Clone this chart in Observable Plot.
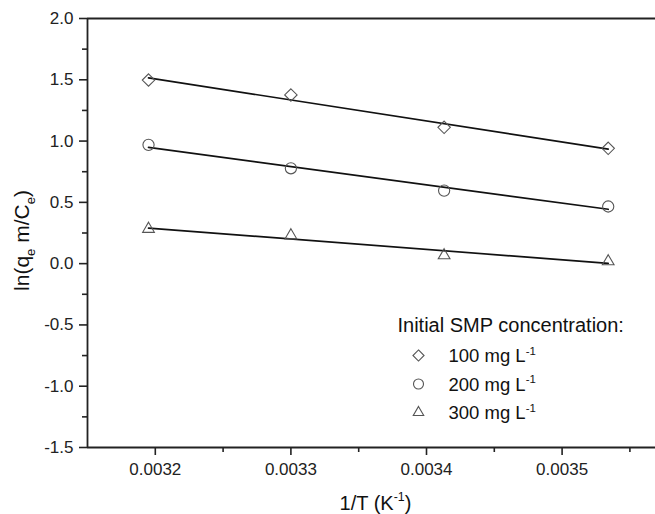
<!DOCTYPE html>
<html><head><meta charset="utf-8">
<script src="https://cdn.jsdelivr.net/npm/d3@7"></script>
<script src="https://cdn.jsdelivr.net/npm/@observablehq/plot@0.6"></script>
<style>
body{margin:0;background:#fff;}
#chart{width:655px;height:514px;overflow:hidden;}
</style></head><body><div id="chart"></div>
<script>
// ---- data ----
const invT = [0.003195, 0.003300, 0.003413, 0.003534];
const seriesNames = ["100 mg L^{-1}", "200 mg L^{-1}", "300 mg L^{-1}"];
const lnK100 = [1.498, 1.376, 1.112, 0.941];
const lnK200 = [0.969, 0.778, 0.596, 0.466];
const lnK300 = [0.283, 0.230, 0.067, 0.018];
const seriesSymbols = ["diamond2", "circle", "triangle2"];
const xMajorTicks = [0.0032, 0.0033, 0.0034, 0.0035];
const xMinorTicks = [0.00325, 0.00335, 0.00345, 0.00355];
const yMajorTicks = [-1.5, -1.0, -0.5, 0.0, 0.5, 1.0, 1.5, 2.0];
const yMinorTicks = [-1.25, -0.75, -0.25, 0.25, 0.75, 1.25, 1.75];
const legendTitle = "Initial SMP concentration:";
const xLabel = "1/T (K^{-1})";
const yLabel = "ln(q_{e} m/C_{e})";

const seriesValues = [lnK100, lnK200, lnK300];
const rows = seriesNames.flatMap((s, i) =>
  invT.map((x, j) => ({series: s, x, y: seriesValues[i][j]})));

const axisColor = "#222";
const markerColor = "#555";
const fontFam = "'Liberation Sans', Arial, Helvetica, sans-serif";

const legendMarks = seriesNames.flatMap((s, i) => [
  Plot.dot([s], {frameAnchor: "top-left", dx: 331, dy: 337 + i * 28.5, symbol: () => seriesSymbols[i],
    r: 5, stroke: markerColor, strokeWidth: 1.1, fill: "none"}),
  Plot.text([s], {frameAnchor: "top-left", dx: 361, dy: 338 + i * 28.5, text: d => d,
    textAnchor: "start", lineAnchor: "middle", fontSize: 18.5, fill: "#111"})
]);

const chart = Plot.plot({
  width: 655,
  height: 514,
  marginLeft: 87,
  marginRight: 0,
  marginTop: 18,
  marginBottom: 67,
  style: {fontFamily: fontFam, background: "#fff", color: axisColor, fontSize: "17px"},
  x: {domain: [0.00315, 0.0036], range: [87, 697.2]},
  y: {domain: [-1.5, 2.0]},
  symbol: {domain: seriesNames, range: seriesSymbols},
  marks: [
    Plot.ruleY([2.0], {stroke: axisColor, strokeWidth: 1.8}),
    Plot.ruleY([-1.5], {stroke: axisColor, strokeWidth: 1.8}),
    Plot.ruleX([0.00315], {stroke: axisColor, strokeWidth: 1.8}),
    Plot.axisX(xMajorTicks, {tickSize: 8, tickPadding: 7, tickFormat: d => d.toFixed(4), label: null,
      fontSize: 17, strokeWidth: 1.6, stroke: axisColor, fill: "#222"}),
    Plot.axisX(xMinorTicks, {tickSize: 5, tickFormat: () => "", label: null, strokeWidth: 1.6, stroke: axisColor}),
    Plot.axisY(yMajorTicks, {tickSize: 8, tickPadding: 6, tickFormat: d => d.toFixed(1), label: null,
      fontSize: 17, strokeWidth: 1.6, stroke: axisColor, fill: "#222"}),
    Plot.axisY(yMinorTicks, {tickSize: 5, tickFormat: () => "", label: null, strokeWidth: 1.6, stroke: axisColor}),
    Plot.linearRegressionY(rows, {x: "x", y: "y", z: "series", ci: 0, stroke: "#111", strokeWidth: 1.7}),
    Plot.dot(rows, {x: "x", y: "y", symbol: "series", r: 5.6, stroke: markerColor, strokeWidth: 1.1, fill: "none"}),
    Plot.text([legendTitle], {frameAnchor: "top-left", dx: 310, dy: 307, text: d => d, textAnchor: "start",
      lineAnchor: "middle", fontSize: 20, fill: "#111"}),
    ...legendMarks,
    Plot.text([xLabel], {frameAnchor: "bottom", dx: 4, dy: 55.6, text: d => d, textAnchor: "middle",
      lineAnchor: "middle", fontSize: 20, fill: "#111"}),
    Plot.text([yLabel], {frameAnchor: "left", rotate: -90, dx: -65, dy: 7.5, text: d => d, textAnchor: "middle",
      lineAnchor: "middle", fontSize: 21, fill: "#111"})
  ]
});
document.getElementById("chart").appendChild(chart);

// rich text: ^{..} superscript, _{..} subscript
d3.select(chart).selectAll("text").each(function() {
  const t = this.textContent;
  if (!/[\^_]\{/.test(t)) return;
  const parts = t.split(/(\^\{[^}]*\}|_\{[^}]*\})/).filter(p => p !== "");
  const sel = d3.select(this);
  const fs = parseFloat(getComputedStyle(this).fontSize) || 16;
  sel.text(null);
  let shift = 0;
  for (const p of parts) {
    let kind = null, s = p;
    if (p.startsWith("^{")) { kind = "sup"; s = p.slice(2, -1); }
    else if (p.startsWith("_{")) { kind = "sub"; s = p.slice(2, -1); }
    const target = kind === "sup" ? -0.42 * fs : kind === "sub" ? 0.28 * fs : 0;
    const ts = sel.append("tspan").text(s);
    if (target - shift !== 0) ts.attr("dy", target - shift);
    if (kind) ts.attr("font-size", (0.62 * fs) + "px");
    shift = target;
  }
});
</script></body></html>
